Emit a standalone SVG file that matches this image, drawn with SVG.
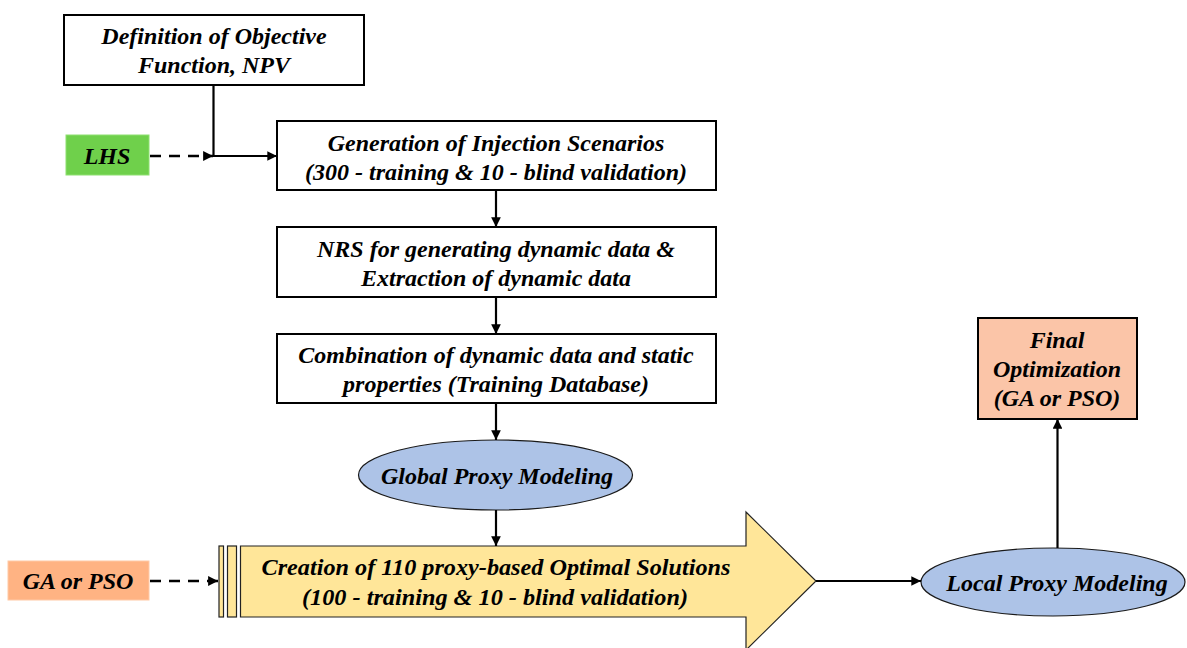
<svg xmlns="http://www.w3.org/2000/svg" width="1187" height="648" viewBox="0 0 1187 648">
<style>
text{font-family:"Liberation Serif","Times New Roman",serif;font-weight:bold;font-style:italic;font-size:24px;fill:#000;text-anchor:middle}
.box{fill:#fff;stroke:#000;stroke-width:2}
.ell{fill:#adc3e7;stroke:#1a1a1a;stroke-width:1.2}
.ln{fill:none;stroke:#000;stroke-width:2.2}
.dash{fill:none;stroke:#000;stroke-width:2.6;stroke-dasharray:11 8}
</style>
<defs>
<marker id="ah" viewBox="0 0 10 10" refX="10" refY="5" markerWidth="4.4" markerHeight="4.4" orient="auto" markerUnits="strokeWidth">
<path d="M0,0 L10,5 L0,10 z" fill="#000"/>
</marker>
<marker id="ahd" viewBox="0 0 10 10" refX="10" refY="5" markerWidth="3.8" markerHeight="3.8" orient="auto" markerUnits="strokeWidth">
<path d="M0,0 L10,5 L0,10 z" fill="#000"/>
</marker>
</defs>
<g id="n-definition">
<rect class="box" x="64" y="15" width="300" height="70"/>
<text x="214" y="44">Definition of Objective</text>
<text x="214" y="73">Function, NPV</text>
</g>
<g id="n-lhs">
<rect x="66" y="135" width="83" height="40" fill="#6fd04b" stroke="#8ee070" stroke-width="1"/>
<text x="107" y="164">LHS</text>
</g>
<g id="n-generation">
<rect class="box" x="277" y="121" width="439" height="69"/>
<text x="496" y="151">Generation of Injection Scenarios</text>
<text x="496" y="180">(300 - training &amp; 10 - blind validation)</text>
</g>
<g id="n-nrs">
<rect class="box" x="277" y="227" width="439" height="70"/>
<text x="496" y="257">NRS for generating dynamic data &amp;</text>
<text x="496" y="286">Extraction of dynamic data</text>
</g>
<g id="n-combination">
<rect class="box" x="277" y="334" width="439" height="69"/>
<text x="496" y="363">Combination of dynamic data and static</text>
<text x="496" y="392">properties (Training Database)</text>
</g>
<g id="n-global">
<ellipse class="ell" cx="495.5" cy="475" rx="137" ry="35"/>
<text x="497" y="484">Global Proxy Modeling</text>
</g>
<g id="n-gapso">
<rect x="8" y="561" width="141" height="39" fill="#ffb383" stroke="#ffc9a6" stroke-width="1"/>
<text x="78" y="589">GA or PSO</text>
</g>
<g id="n-creation">
<rect x="219" y="546" width="4.5" height="71" fill="#ffe699" stroke="#222" stroke-width="1.2"/>
<rect x="227.5" y="546" width="9" height="71" fill="#ffe699" stroke="#222" stroke-width="1.2"/>
<path d="M240.5,546 L746,546 L746,512 L816,581 L746,650 L746,617 L240.5,617 Z" fill="#ffe699" stroke="#222" stroke-width="1.2"/>
<text x="496" y="575" textLength="469" lengthAdjust="spacingAndGlyphs">Creation of 110 proxy-based Optimal Solutions</text>
<text x="495" y="605" textLength="386" lengthAdjust="spacingAndGlyphs">(100 - training &amp; 10 - blind validation)</text>
</g>
<g id="n-local">
<ellipse class="ell" cx="1053" cy="582" rx="132" ry="34"/>
<text x="1057" y="591">Local Proxy Modeling</text>
</g>
<g id="n-final">
<rect x="978" y="318" width="159" height="101" fill="#fbc5a8" stroke="#000" stroke-width="2"/>
<text x="1057" y="348">Final</text>
<text x="1057" y="377">Optimization</text>
<text x="1057" y="406">(GA or PSO)</text>
</g>
<g id="connectors">
<polyline class="ln" points="213.5,85 213.5,156 277,156" marker-end="url(#ah)"/>
<line class="dash" x1="150" y1="156" x2="213" y2="156" marker-end="url(#ahd)"/>
<line class="ln" x1="496" y1="190" x2="496" y2="227" marker-end="url(#ah)"/>
<line class="ln" x1="496" y1="297" x2="496" y2="334" marker-end="url(#ah)"/>
<line class="ln" x1="496" y1="403" x2="496" y2="440" marker-end="url(#ah)"/>
<line class="ln" x1="496" y1="510" x2="496" y2="546" marker-end="url(#ah)"/>
<line class="dash" x1="150" y1="581" x2="218" y2="581" marker-end="url(#ahd)"/>
<line class="ln" x1="816" y1="581" x2="921" y2="581" marker-end="url(#ah)"/>
<line class="ln" x1="1057.5" y1="548" x2="1057.5" y2="419" marker-end="url(#ah)"/>
</g>
</svg>
